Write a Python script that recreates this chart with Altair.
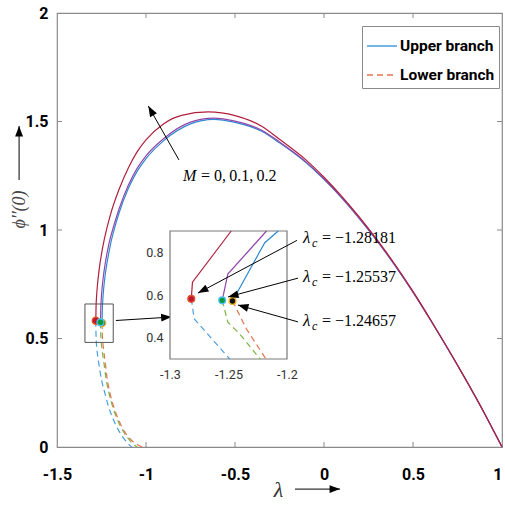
import math
import altair as alt
import pandas as pd

SANS = "Roboto, Liberation Sans, sans-serif"
SERIF = "Liberation Serif, DejaVu Serif, serif"

# ---------------- data ----------------
# upper branches (solid)
up0_lam = [-1.24657, -1.2455, -1.243, -1.238, -1.23, -1.22, -1.2, -1.175, -1.15, -1.1, -1.05, -1.0, -0.9,
           -0.75, -0.62, -0.5, -0.35, -0.25, -0.1, 0.0, 0.1, 0.2, 0.3, 0.4, 0.5, 0.6, 0.7, 0.8, 0.9, 1.0]
up0_phi = [0.572, 0.629, 0.674, 0.728, 0.788, 0.844, 0.932, 1.013, 1.082, 1.190, 1.270, 1.329, 1.412,
           1.489, 1.510, 1.496, 1.455, 1.402, 1.310, 1.233, 1.147, 1.051, 0.947, 0.835, 0.713, 0.582, 0.446,
           0.305, 0.157, 0.0]
up1_lam = [-1.25537, -1.2543, -1.2518, -1.2468, -1.2388, -1.2288, -1.2088, -1.18, -1.15, -1.1, -1.05, -1.0,
           -0.9, -0.75, -0.62, -0.5, -0.35, -0.25, -0.1, 0.0, 0.1, 0.2, 0.3, 0.4, 0.5, 0.6, 0.7, 0.8, 0.9, 1.0]
up1_phi = [0.575, 0.632, 0.677, 0.731, 0.791, 0.847, 0.935, 1.022, 1.100, 1.205, 1.284, 1.342, 1.422,
           1.497, 1.516, 1.502, 1.460, 1.406, 1.313, 1.236, 1.149, 1.053, 0.949, 0.836, 0.714, 0.583, 0.447,
           0.305, 0.157, 0.0]
up2_lam = [-1.28181, -1.2808, -1.278, -1.272, -1.264, -1.25, -1.235, -1.2, -1.15, -1.1, -1.05, -1.0, -0.9,
           -0.8, -0.65, -0.5, -0.35, -0.25, -0.1, 0.0, 0.1, 0.2, 0.3, 0.4, 0.5, 0.6, 0.7, 0.8, 0.9, 1.0]
up2_phi = [0.582, 0.640, 0.690, 0.752, 0.813, 0.889, 0.954, 1.070, 1.190, 1.285, 1.360, 1.415, 1.490,
           1.528, 1.544, 1.527, 1.478, 1.418, 1.322, 1.243, 1.155, 1.058, 0.953, 0.840, 0.717, 0.585, 0.448,
           0.306, 0.158, 0.0]
# lower branches (dashed)
lo0_lam = [-1.24657, -1.2464, -1.2455, -1.243, -1.238, -1.23, -1.219, -1.2, -1.175, -1.15, -1.12, -1.08,
           -1.05, -1.02]
lo0_phi = [0.572, 0.548, 0.522, 0.488, 0.447, 0.398, 0.32, 0.24, 0.17, 0.117, 0.07, 0.03, 0.012, 0.0]
lo1_lam = [-1.25537, -1.2551, -1.2542, -1.2515, -1.246, -1.238, -1.225, -1.21, -1.185, -1.16, -1.13, -1.1,
           -1.075, -1.05]
lo1_phi = [0.575, 0.548, 0.52, 0.483, 0.442, 0.397, 0.318, 0.255, 0.18, 0.125, 0.075, 0.04, 0.015, 0.0]
lo2_lam = [-1.28181, -1.2816, -1.281, -1.2793, -1.275, -1.267, -1.25, -1.23, -1.212, -1.185, -1.156, -1.125,
           -1.1, -1.08]
lo2_phi = [0.582, 0.555, 0.525, 0.488, 0.445, 0.395, 0.31, 0.245, 0.19, 0.13, 0.08, 0.04, 0.015, 0.0]

# inset (zoomed view, as drawn in the inset)
in_up0_lam = [-1.24657, -1.219, -1.2075]
in_up0_phi = [0.572, 0.845, 0.9]
in_up1_lam = [-1.25537, -1.2506, -1.2175]
in_up1_phi = [0.575, 0.698, 0.9]
in_up2_lam = [-1.28181, -1.2808, -1.2477]
in_up2_phi = [0.582, 0.66, 0.9]
in_lo0_lam = [-1.24657, -1.2348, -1.218]
in_lo0_phi = [0.572, 0.442, 0.3]
in_lo1_lam = [-1.25537, -1.2506, -1.2405, -1.223]
in_lo1_phi = [0.575, 0.473, 0.418, 0.3]
in_lo2_lam = [-1.28181, -1.2793, -1.249]
in_lo2_phi = [0.582, 0.488, 0.3]

# critical points
crit_lam = [-1.28181, -1.24657, -1.25537]
crit_phi = [0.582, 0.572, 0.575]
crit_fill = ["#c0182a", "#111111", "#0a9a3a"]
crit_edge = ["#e0502a", "#edb120", "#4dbeee"]

x_ticks = [-1.5, -1, -0.5, 0, 0.5, 1]
y_ticks = [0, 0.5, 1, 1.5, 2]
in_x_ticks = [-1.3, -1.25, -1.2]
in_y_ticks = [0.4, 0.6, 0.8]

COLOR = {"M0 up": "#2e8ad0", "M0.1 up": "#9146ab", "M0.2 up": "#b01f3c",
         "M0 lo": "#e27650", "M0.1 lo": "#7db546", "M0.2 lo": "#4a9ee0"}
BRANCHES = ["Upper branch", "Lower branch"]
BRANCH_COLORS = ["#4a9ee0", "#e27650"]

# ---------------- layout (styles) ----------------
W, H = 445, 434
X_DOM, Y_DOM = [-1.5, 1.0], [0.0, 2.0]
IN_X_RANGE, IN_Y_RANGE = [113, 230], [346, 218]
IN_X_DOM, IN_Y_DOM = [-1.3, -1.2], [0.3, 0.9]
SX, SY = W / (X_DOM[1] - X_DOM[0]), H / (Y_DOM[1] - Y_DOM[0])
ISX = (IN_X_RANGE[1] - IN_X_RANGE[0]) / (IN_X_DOM[1] - IN_X_DOM[0])
ISY = (IN_Y_RANGE[0] - IN_Y_RANGE[1]) / (IN_Y_DOM[1] - IN_Y_DOM[0])
HEAD = "M0,0L-0.75,2L0.75,2Z"


def curves_frame(spec):
    rows = []
    for name, lam, phi in spec:
        for a, b in zip(lam, phi):
            rows.append({"lam": a, "phi": b, "series": name, "hex": COLOR[name]})
    return pd.DataFrame(rows)


main_up_df = curves_frame([("M0 up", up0_lam, up0_phi), ("M0.1 up", up1_lam, up1_phi),
                           ("M0.2 up", up2_lam, up2_phi)])
main_lo_df = curves_frame([("M0.2 lo", lo2_lam, lo2_phi), ("M0.1 lo", lo1_lam, lo1_phi),
                           ("M0 lo", lo0_lam, lo0_phi)])
inset_up_df = curves_frame([("M0 up", in_up0_lam, in_up0_phi), ("M0.1 up", in_up1_lam, in_up1_phi),
                            ("M0.2 up", in_up2_lam, in_up2_phi)])
inset_lo_df = curves_frame([("M0.2 lo", in_lo2_lam, in_lo2_phi), ("M0.1 lo", in_lo1_lam, in_lo1_phi),
                            ("M0 lo", in_lo0_lam, in_lo0_phi)])
dots_df = pd.DataFrame({"lam": crit_lam, "phi": crit_phi, "fill": crit_fill, "edge": crit_edge})
legend_df = pd.DataFrame({"branch": BRANCHES, "lam": [float("nan")] * 2, "phi": [float("nan")] * 2})


def arrows(pairs, sx, sy):
    rows = []
    for (x1, y1), (x2, y2) in pairs:
        ang = math.degrees(math.atan2((x2 - x1) * sx, (y2 - y1) * sy)) % 360
        rows.append({"lam": x1, "phi": y1, "lam2": x2, "phi2": y2, "ang": ang})
    return pd.DataFrame(rows)


# annotation arrows in main coordinates
main_arrows = arrows([
    ((-0.815, 1.323), (-0.987, 1.571)),      # M = 0, 0.1, 0.2
    ((-1.169, 0.583), (-0.856, 0.599)),      # box -> inset
    ((-0.163, -0.194), (0.090, -0.194)),     # x title arrow
    ((-1.713, 1.230), (-1.713, 1.479)),      # y title arrow
], SX, SY)
# arrows to the critical points in inset coordinates
inset_arrows = arrows([
    ((-1.1915, 0.856), (-1.2761, 0.609)),
    ((-1.1906, 0.679), (-1.2504, 0.591)),
    ((-1.1906, 0.474), (-1.2419, 0.553)),
], ISX, ISY)

crit_text_df = pd.DataFrame({
    "lam": [-1.1863] * 3,
    "phi": [0.865, 0.684, 0.479],
    "txt": ["= \u2212" + f"{abs(v):.5f}" for v in [-1.28181, -1.25537, -1.24657]],
})
m_text_df = pd.DataFrame({"lam": [-0.792], "phi": [1.249], "txt": ["= 0,\u20090.1,\u20090.2"]})
zoom_box_df = pd.DataFrame({"lam": [-1.343], "lam2": [-1.184], "phi": [0.482], "phi2": [0.659]})
inset_box_df = pd.DataFrame({"lam": [IN_X_DOM[0]], "lam2": [IN_X_DOM[1]],
                             "phi": [IN_Y_DOM[0]], "phi2": [IN_Y_DOM[1]]})
xt_df = pd.DataFrame({"lam": x_ticks[1:-1]})
yt_df = pd.DataFrame({"phi": y_ticks[1:-1]})

# ---------------- scales / axes ----------------
xs = alt.Scale(domain=X_DOM, nice=False, zero=False)
ys = alt.Scale(domain=Y_DOM, nice=False, zero=False)
hex_color = alt.Color("hex:N", scale=None)

x_axis = alt.Axis(values=x_ticks, labelExpr="'' + datum.value", title="\u03bb",
                  labelFont=SANS, labelFontSize=16, labelFontWeight="bold", labelColor="black",
                  labelAlign={"condition": {"test": f"datum.value === {x_ticks[-1]}", "value": "right"},
                              "value": "center"},
                  labelPadding=19, labelFlush=False, labelOverlap=False, domain=False, ticks=False,
                  grid=False, titleFont=SERIF, titleFontSize=22, titleFontStyle="italic",
                  titleFontWeight="normal", titleColor="#333", titleX=221, titleY=42,
                  titleAlign="center", titleBaseline="middle")
y_axis = alt.Axis(values=y_ticks, labelExpr="'' + datum.value", title="\u03d5\u2032\u2032(0)",
                  labelFont=SANS, labelFontSize=16, labelFontWeight="bold", labelColor="black",
                  labelPadding=9, labelFlush=False, labelOverlap=False, domain=False, ticks=False,
                  grid=False, titleFont=SERIF, titleFontSize=18, titleFontStyle="italic",
                  titleFontWeight="normal",
                  titleColor="#444", titleAngle=270, titleX=-38, titleY=196,
                  titleAlign="center", titleBaseline="middle")

legend = alt.Legend(title=None, orient="none", legendX=305, legendY=13, direction="vertical",
                    symbolType="stroke", symbolSize=900, symbolStrokeWidth=1.3,
                    labelFont=SANS, labelFontSize=15.5, labelFontWeight="bold", labelColor="black",
                    labelOffset=2, rowPadding=4, padding=4, strokeColor="#8a8a8a", fillColor="white",
                    labelLimit=200)

X = alt.X("lam:Q", scale=xs, axis=x_axis)
Y = alt.Y("phi:Q", scale=ys, axis=y_axis)
MX = alt.X("lam:Q", scale=xs)
MY = alt.Y("phi:Q", scale=ys)

main_up = alt.Chart(main_up_df).mark_line(interpolate="monotone", strokeWidth=1.2).encode(
    x=X, y=Y, color=hex_color, detail="series:N")
main_lo = alt.Chart(main_lo_df).mark_line(interpolate="monotone", strokeWidth=1.2,
                                          strokeDash=[6, 4]).encode(
    x=MX, y=MY, color=hex_color, detail="series:N")
legend_layer = alt.Chart(legend_df).mark_line(strokeWidth=1.2).encode(
    x=MX, y=MY,
    color=alt.Color("branch:N", scale=alt.Scale(domain=BRANCHES, range=BRANCH_COLORS), legend=legend),
    strokeDash=alt.StrokeDash("branch:N", scale=alt.Scale(domain=BRANCHES, range=[[1, 0], [6, 4]]),
                              legend=legend),
)
zoom_box = alt.Chart(zoom_box_df).mark_rect(fill=None, stroke="#555", strokeWidth=1).encode(
    x=MX, x2="lam2", y=MY, y2="phi2")
main_dots = alt.Chart(dots_df).mark_point(filled=True, size=50, strokeWidth=1.4, opacity=1).encode(
    x=MX, y=MY, fill=alt.Fill("fill:N", scale=None), stroke=alt.Stroke("edge:N", scale=None))
m_lines = alt.Chart(main_arrows).mark_rule(color="black", strokeWidth=1).encode(
    x=MX, y=MY, x2="lam2", y2="phi2")
m_heads = alt.Chart(main_arrows).mark_point(shape=HEAD, filled=True, size=110, color="black",
                                            opacity=1, strokeWidth=0).encode(
    x=alt.X("lam2:Q", scale=xs), y=alt.Y("phi2:Q", scale=ys), angle=alt.Angle("ang:Q", scale=None))
m_italic = alt.Chart(m_text_df).mark_text(text="M", font=SERIF, fontSize=16, fontStyle="italic",
                                          align="left", baseline="middle", color="black").encode(x=MX, y=MY)
m_rest = alt.Chart(m_text_df).mark_text(font=SERIF, fontSize=16, align="left", baseline="middle",
                                        dx=18, color="black").encode(x=MX, y=MY, text="txt:N")
tick_style = dict(color="#8a8a8a", strokeWidth=1)
ticks_b = alt.Chart(xt_df).mark_rule(**tick_style).encode(x=MX, y=alt.value(H), y2=alt.value(H - 5))
ticks_t = alt.Chart(xt_df).mark_rule(**tick_style).encode(x=MX, y=alt.value(0), y2=alt.value(5))
ticks_l = alt.Chart(yt_df).mark_rule(**tick_style).encode(y=MY, x=alt.value(0), x2=alt.value(5))
ticks_r = alt.Chart(yt_df).mark_rule(**tick_style).encode(y=MY, x=alt.value(W), x2=alt.value(W - 5))

main = alt.layer(main_up, main_lo, legend_layer, zoom_box, main_dots, m_lines, m_heads, m_italic,
                 m_rest, ticks_b, ticks_t, ticks_l, ticks_r)

# ---------------- inset ----------------
ixs = alt.Scale(domain=IN_X_DOM, range=IN_X_RANGE, nice=False, zero=False)
iys = alt.Scale(domain=IN_Y_DOM, range=IN_Y_RANGE, nice=False, zero=False)
in_x_axis = alt.Axis(values=in_x_ticks, labelExpr="'' + datum.value", orient="bottom",
                     offset=IN_Y_RANGE[0] - H, domain=False, ticks=False, grid=False, title=None,
                     labelFont=SANS, labelFontSize=12.5, labelColor="#333", labelPadding=9,
                     labelFlush=False, labelOverlap=False)
in_y_axis = alt.Axis(values=in_y_ticks, labelExpr="'' + datum.value", orient="left",
                     offset=-IN_X_RANGE[0], domain=False, ticks=False, grid=False, title=None,
                     labelFont=SANS, labelFontSize=12.5, labelColor="#333", labelPadding=7,
                     labelFlush=False, labelOverlap=False)

IX = alt.X("lam:Q", scale=ixs)
IY = alt.Y("phi:Q", scale=iys)
in_box = alt.Chart(inset_box_df).mark_rect(fill="white", stroke="#7a7a7a", strokeWidth=1.2).encode(
    x=alt.X("lam:Q", scale=ixs, axis=in_x_axis), x2="lam2",
    y=alt.Y("phi:Q", scale=iys, axis=in_y_axis), y2="phi2")
in_up = alt.Chart(inset_up_df).mark_line(strokeWidth=1.2).encode(x=IX, y=IY, color=hex_color,
                                                                   detail="series:N")
in_lo = alt.Chart(inset_lo_df).mark_line(strokeWidth=1.2, strokeDash=[6, 4]).encode(
    x=IX, y=IY, color=hex_color, detail="series:N")
in_dots = alt.Chart(dots_df).mark_point(filled=True, size=45, strokeWidth=1.4, opacity=1).encode(
    x=IX, y=IY, fill=alt.Fill("fill:N", scale=None), stroke=alt.Stroke("edge:N", scale=None))
in_lines = alt.Chart(inset_arrows).mark_rule(color="black", strokeWidth=1).encode(
    x=IX, y=IY, x2="lam2", y2="phi2")
in_heads = alt.Chart(inset_arrows).mark_point(shape=HEAD, filled=True, size=110, color="black",
                                              opacity=1, strokeWidth=0).encode(
    x=alt.X("lam2:Q", scale=ixs), y=alt.Y("phi2:Q", scale=iys), angle=alt.Angle("ang:Q", scale=None))
lam_sym = alt.Chart(crit_text_df).mark_text(text="\u03bb", font=SERIF, fontSize=17, fontStyle="italic",
                                            align="left", baseline="middle", color="black").encode(x=IX, y=IY)
lam_sub = alt.Chart(crit_text_df).mark_text(text="c", font=SERIF, fontSize=12, fontStyle="italic",
                                            align="left", baseline="middle", dx=9, dy=5,
                                            color="black").encode(x=IX, y=IY)
lam_val = alt.Chart(crit_text_df).mark_text(font=SERIF, fontSize=16, align="left", baseline="middle",
                                            dx=19, color="black").encode(x=IX, y=IY, text="txt:N")

inset = alt.layer(in_box, in_up, in_lo, in_dots, in_lines, in_heads, lam_sym, lam_sub, lam_val)

chart = alt.layer(main, inset).resolve_scale(x="independent", y="independent").properties(
    width=W, height=H, autosize=alt.AutoSizeParams(type="none"),
    padding={"left": 57, "top": 13, "right": 3, "bottom": 59},
    background="white",
).configure_view(stroke="#8a8a8a", strokeWidth=1.2).configure_axis(grid=False)

chart.save("out.html", embed_options={"renderer": "svg", "actions": False})
